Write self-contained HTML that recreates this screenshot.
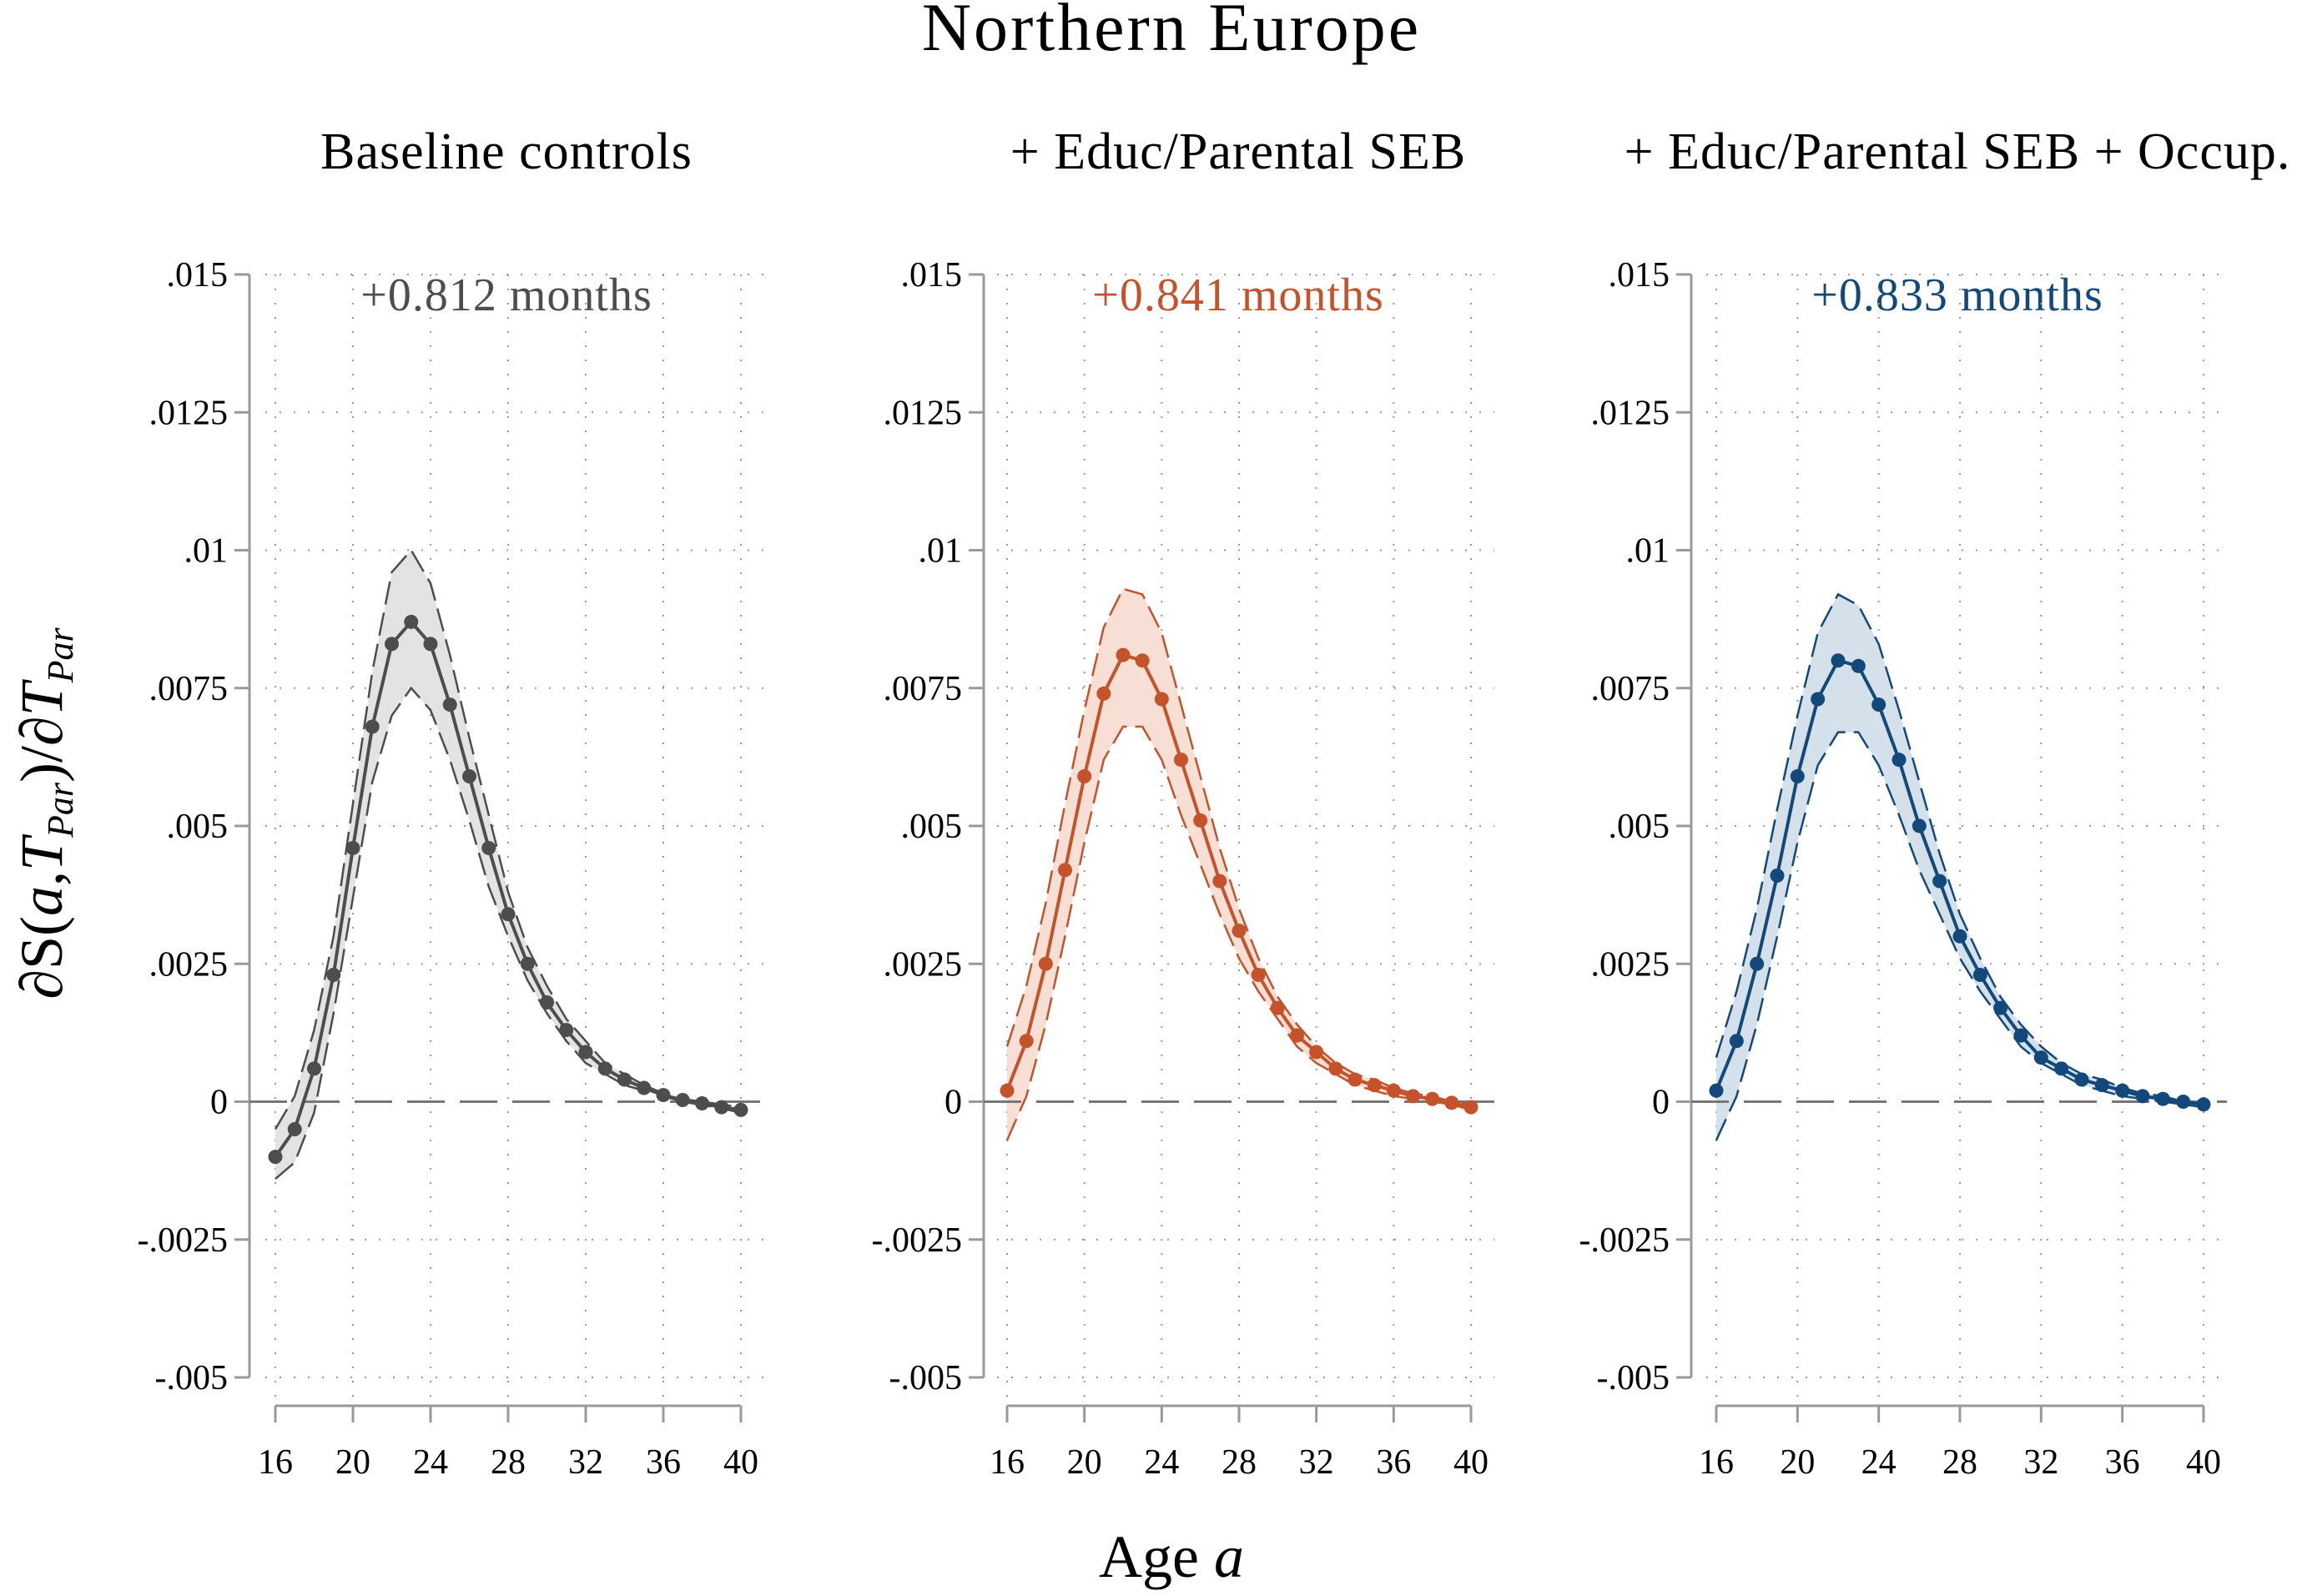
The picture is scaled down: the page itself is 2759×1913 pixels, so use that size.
<!DOCTYPE html>
<html><head><meta charset="utf-8"><style>
html,body{margin:0;padding:0;background:#fff;}
svg{display:block;font-family:"Liberation Serif",serif;}
</style></head><body>
<svg id="chart" width="2759" height="1913" viewBox="0 0 2759 1913" xmlns="http://www.w3.org/2000/svg">
<rect width="2759" height="1913" fill="#fff"/>
<text x="1404" y="60" font-size="82" letter-spacing="3" text-anchor="middle" fill="#000">Northern Europe</text>
<text x="1404" y="1890" font-size="72" text-anchor="middle" fill="#000">Age <tspan font-style="italic">a</tspan></text>
<text transform="translate(74,975) rotate(-90)" font-size="72" text-anchor="middle" fill="#000">∂S(<tspan font-style="italic">a</tspan>,<tspan font-style="italic">T</tspan><tspan font-size="44" font-style="italic" dy="13">Par</tspan><tspan dy="-13">)/∂</tspan><tspan font-style="italic">T</tspan><tspan font-size="44" font-style="italic" dy="13">Par</tspan></text>
</svg>
<script>
const ages = [16,17,18,19,20,21,22,23,24,25,26,27,28,29,30,31,32,33,34,35,36,37,38,39,40];
const xTicks = [16,20,24,28,32,36,40];
const yTicks = [-0.005,-0.0025,0,0.0025,0.005,0.0075,0.01,0.0125,0.015];
const yTickLabels = ["-.005","-.0025","0",".0025",".005",".0075",".01",".0125",".015"];
const panelTitles = ["Baseline controls","+ Educ/Parental SEB","+ Educ/Parental SEB + Occup."];
const panelNotes = ["+0.812 months","+0.841 months","+0.833 months"];
const est1 = [-.001,-.0005,.0006,.0023,.0046,.0068,.0083,.0087,.0083,.0072,.0059,.0046,.0034,.0025,.0018,.0013,.0009,.0006,.0004,.00025,.00012,.00003,-.00003,-.0001,-.00015];
const hi1 = [-.0005,.0001,.0013,.003,.0054,.0078,.0096,.0100,.0094,.0081,.0066,.0052,.0038,.0028,.0021,.0015,.0011,.0007,.0005,.0003,.00015,.00005,0,-.00005,-.0001];
const lo1 = [-.0014,-.0011,-.0002,.0016,.0037,.0058,.0070,.0075,.0071,.0062,.0051,.0039,.0030,.0022,.0016,.0011,.0007,.0005,.0003,.0002,.0001,0,-.00006,-.00012,-.0002];
const est2 = [.0002,.0011,.0025,.0042,.0059,.0074,.0081,.0080,.0073,.0062,.0051,.0040,.0031,.0023,.0017,.0012,.0009,.0006,.0004,.0003,.0002,.0001,.00005,-.00002,-.0001];
const hi2 = [.001,.0021,.0036,.0054,.0071,.0086,.0093,.0092,.0085,.0072,.0059,.0046,.0035,.0026,.0019,.0014,.0010,.0007,.0005,.0004,.00025,.00015,.0001,0,-.00005];
const lo2 = [-.0007,.0001,.0014,.003,.0047,.0062,.0068,.0068,.0062,.0052,.0043,.0034,.0026,.0020,.0015,.0010,.0007,.0005,.0003,.0002,.0001,.00005,0,-.00005,-.00015];
const est3 = [.0002,.0011,.0025,.0041,.0059,.0073,.0080,.0079,.0072,.0062,.0050,.0040,.0030,.0023,.0017,.0012,.0008,.0006,.0004,.0003,.0002,.0001,.00005,0,-.00005];
const hi3 = [.0008,.0020,.0035,.0053,.0070,.0085,.0092,.0090,.0083,.0071,.0058,.0045,.0034,.0026,.0019,.0014,.0010,.0007,.0005,.0004,.00025,.00015,.0001,0,-.00003];
const lo3 = [-.0007,.0001,.0014,.0030,.0047,.0061,.0067,.0067,.0061,.0052,.0042,.0034,.0026,.0020,.0015,.0010,.0007,.0005,.0003,.0002,.0001,.00005,0,-.00005,-.0001];

const NS="http://www.w3.org/2000/svg";
const svg=document.getElementById('chart');
function mk(tag,attrs,parent){const e=document.createElementNS(NS,tag);for(const k in attrs)e.setAttribute(k,attrs[k]);(parent||svg).appendChild(e);return e;}

const panels=[
 {x0:330,x1:888,axisX:299,cx:607,color:"#4d4d4d",fill:"#e3e3e3",est:est1,hi:hi1,lo:lo1},
 {x0:1207,x1:1763,axisX:1179,cx:1484,color:"#c4532b",fill:"#f7dfd6",est:est2,hi:hi2,lo:lo2},
 {x0:2057,x1:2641,axisX:2027,cx:2346,color:"#13497a",fill:"#d4e0ea",est:est3,hi:hi3,lo:lo3}
];
const yTop=329,yBot=1651,axisY=1685;
function yS(v){return yBot-(v-(-0.005))/(0.02)*(yBot-yTop);}

panels.forEach((p,i)=>{
 const g=mk('g',{});
 
 
 const xS=a=>p.x0+(a-16)/24*(p.x1-p.x0);
 const t=mk('text',{x:p.cx,y:202,'font-size':62,'letter-spacing':1,'text-anchor':'middle',fill:'#000'},g);
 t.textContent=panelTitles[i];
 
 
 const n=mk('text',{x:p.cx,y:372,'font-size':56,'letter-spacing':1,'text-anchor':'middle',fill:p.color},g);
 n.textContent=panelNotes[i];
 
 
 xTicks.forEach(a=>{
  const l=mk('line',{x1:xS(a),x2:xS(a),y1:yTop,y2:yBot+30,stroke:'#999','stroke-width':2,'stroke-dasharray':'2 15'},g);
  
  
 });
 yTicks.forEach((v,k)=>{
  if(v!==0){
   const l=mk('line',{x1:p.x0-12,x2:p.x1+28,y1:yS(v),y2:yS(v),stroke:'#999','stroke-width':2,'stroke-dasharray':'2 15'},g);
   
   
  }
  const tk=mk('line',{x1:p.axisX-18,x2:p.axisX,y1:yS(v),y2:yS(v),stroke:'#999','stroke-width':3},g);
  
  
  const tl=mk('text',{x:p.axisX-26,y:yS(v)+14,'font-size':42,'text-anchor':'end',fill:'#000'},g);
  tl.textContent=yTickLabels[k];
  
  
 });
 const ya=mk('line',{x1:p.axisX,x2:p.axisX,y1:yTop,y2:yBot,stroke:'#999','stroke-width':3},g);
 
 
 const xa=mk('line',{x1:p.x0,x2:p.x1,y1:axisY,y2:axisY,stroke:'#999','stroke-width':3},g);
 
 
 xTicks.forEach(a=>{
  const tk=mk('line',{x1:xS(a),x2:xS(a),y1:axisY,y2:axisY+20,stroke:'#999','stroke-width':3},g);
  
  
  const tl=mk('text',{x:xS(a),y:1766,'font-size':42,'text-anchor':'middle',fill:'#000'},g);
  tl.textContent=a;
  
  
 });
 let d='';
 ages.forEach((a,k)=>{d+=(k?'L':'M')+xS(a)+','+yS(p.hi[k]);});
 for(let k=ages.length-1;k>=0;k--)d+='L'+xS(ages[k])+','+yS(p.lo[k]);
 const band=mk('path',{d:d+'Z',fill:p.fill,stroke:'none'},g);
 
 
 const z=mk('line',{x1:p.axisX,x2:p.x1+28,y1:yS(0),y2:yS(0),stroke:'#777','stroke-width':3,'stroke-dasharray':'45 18'},g);
 
 
 const pts=arr=>ages.map((a,k)=>xS(a)+','+yS(arr[k])).join(' ');
 const hl=mk('polyline',{points:pts(p.hi),fill:'none',stroke:p.color,'stroke-width':2.5,'stroke-dasharray':'28 10'},g);
 
 
 const ll=mk('polyline',{points:pts(p.lo),fill:'none',stroke:p.color,'stroke-width':2.5,'stroke-dasharray':'28 10'},g);
 
 
 const el=mk('polyline',{points:pts(p.est),fill:'none',stroke:p.color,'stroke-width':4},g);
 
 
 ages.forEach((a,k)=>{
  const c=mk('circle',{cx:xS(a),cy:yS(p.est[k]),r:8.5,fill:p.color},g);
  
  
 });
});
</script>
</body></html>
